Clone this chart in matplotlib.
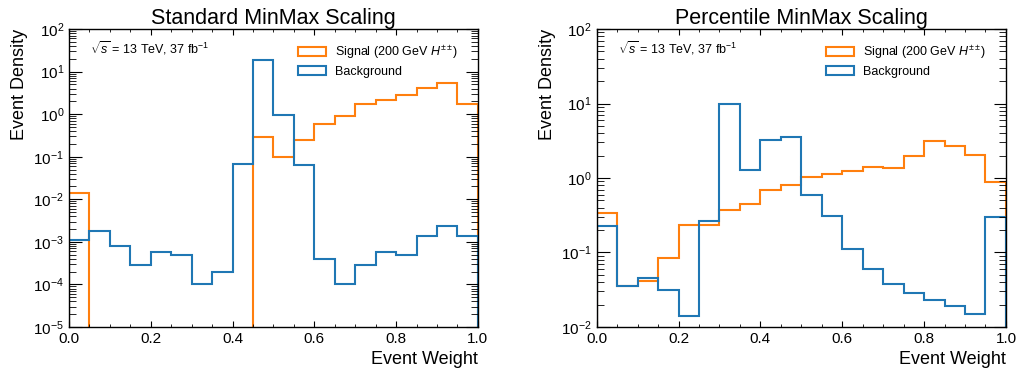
import matplotlib
matplotlib.use('Agg')
import matplotlib.pyplot as plt
import numpy as np
from matplotlib.patches import Patch
from matplotlib.ticker import LogLocator, MultipleLocator, NullFormatter

plt.rcParams['font.family'] = ['Liberation Sans', 'DejaVu Sans']
plt.rcParams['mathtext.fontset'] = 'custom'
plt.rcParams['mathtext.rm'] = 'Liberation Sans'
plt.rcParams['mathtext.it'] = 'Liberation Sans:italic'
plt.rcParams['mathtext.bf'] = 'Liberation Sans:bold'

edges = np.linspace(0.0, 1.0, 21)

# Standard MinMax scaling
std_signal = [1.4e-2, 0, 0, 0, 0, 0, 0, 0, 0, 0.29,
              0.097, 0.245, 0.58, 0.91, 1.7, 2.2, 2.8, 4.1, 5.3, 1.7]
std_background = [1.1e-3, 1.8e-3, 7.8e-4, 2.9e-4, 5.9e-4, 4.9e-4, 1.0e-4, 1.95e-4, 6.7e-2, 19.0,
                  0.93, 6.3e-2, 4.0e-4, 1.0e-4, 2.9e-4, 5.9e-4, 4.9e-4, 1.4e-3, 2.3e-3, 1.4e-3]

# Percentile MinMax scaling
pct_signal = [0.336, 0.035, 0.041, 0.084, 0.237, 0.237, 0.369, 0.444, 0.68, 0.81,
              1.04, 1.14, 1.23, 1.40, 1.38, 1.97, 3.13, 2.66, 2.05, 0.875]
pct_background = [0.227, 0.036, 0.045, 0.0316, 0.0142, 0.268, 10.0, 1.29, 3.19, 3.6,
                  0.59, 0.31, 0.11, 0.060, 0.038, 0.0285, 0.023, 0.0193, 0.0148, 0.295]

titles = ['Standard MinMax Scaling', 'Percentile MinMax Scaling']
ylims = [(1e-5, 1e2), (1e-2, 1e2)]
signal_label = 'Signal (200 GeV $H^{\\pm\\pm}$)'
background_label = 'Background'
c_sig = '#ff7f0e'
c_bkg = '#1f77b4'

fig = plt.figure(figsize=(10.19, 3.72), dpi=100)
ax1 = fig.add_axes([0.0677, 0.121, 0.4013, 0.801])
ax2 = fig.add_axes([0.5856, 0.121, 0.4016, 0.801])

for ax, title, ylim, sig, bkg in zip([ax1, ax2], titles, ylims,
                                     [std_signal, pct_signal],
                                     [std_background, pct_background]):
    ax.set_yscale('log')
    ax.stairs(sig, edges, baseline=1e-12, color=c_sig, lw=1.5)
    ax.stairs(bkg, edges, baseline=1e-12, color=c_bkg, lw=1.5)
    ax.set_xlim(0, 1)
    ax.set_ylim(*ylim)
    ax.set_title(title, fontsize=15.5, pad=3)
    ax.set_xlabel('Event Weight', fontsize=13, loc='right')
    ax.set_ylabel('Event Density', fontsize=13, loc='top')
    ax.xaxis.set_major_locator(MultipleLocator(0.2))
    ax.xaxis.set_minor_locator(MultipleLocator(0.05))
    ax.yaxis.set_major_locator(LogLocator(base=10, numticks=20))
    ax.yaxis.set_minor_locator(LogLocator(base=10, subs=np.arange(2, 10), numticks=100))
    ax.yaxis.set_minor_formatter(NullFormatter())
    ax.tick_params(which='both', direction='in', top=True, right=True, labelsize=11)
    ax.tick_params(axis='y', which='major', length=9)
    ax.tick_params(axis='y', which='minor', length=5)
    ax.tick_params(axis='x', which='major', length=4)
    ax.tick_params(axis='x', which='minor', length=2.5)
    ax.text(0.051, 0.936, '$\\sqrt{s}$ = 13 TeV, 37 fb$^{-1}$', transform=ax.transAxes,
            fontsize=9, va='center', ha='left')
    handles = [Patch(facecolor='none', edgecolor=c_sig, lw=1.5, label=signal_label),
               Patch(facecolor='none', edgecolor=c_bkg, lw=1.5, label=background_label)]
    ax.legend(handles=handles, loc='upper left', frameon=False, fontsize=9,
              bbox_to_anchor=(0.561, 0.952), borderaxespad=0, borderpad=0,
              handlelength=2.2, handleheight=0.7, handletextpad=0.75,
              labelspacing=0.4)
    for s in ax.spines.values():
        s.set_linewidth(1.0)

fig.savefig('out.png', dpi=100)
